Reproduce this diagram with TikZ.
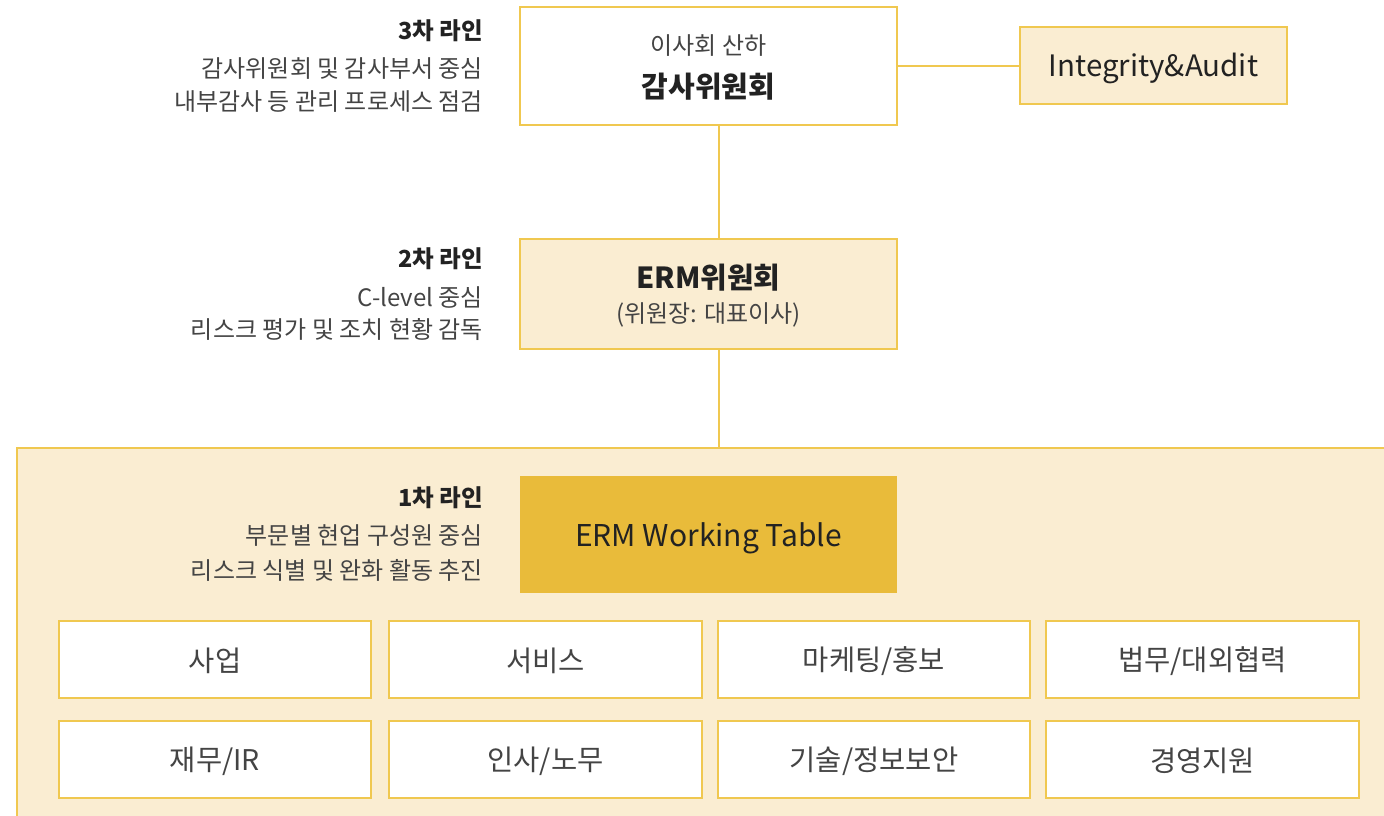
\documentclass[tikz,border=0pt]{standalone}
\usepackage{fontspec}
\setmainfont{Noto Sans CJK KR}
\definecolor{lineY}{HTML}{F0C850}
\definecolor{paleY}{HTML}{FAEDD2}
\definecolor{darkY}{HTML}{E9BB3A}
\definecolor{txtA}{HTML}{222222}
\definecolor{txtB}{HTML}{444444}
\tikzset{
  box/.style={draw=lineY, line width=1.5pt, inner sep=0pt},
  conn/.style={draw=lineY, line width=1.5pt},
  ttl/.style={anchor=east, font=\fontsize{23.5}{28}\selectfont\bfseries, text=txtA, inner sep=0pt},
  sub/.style={anchor=east, font=\fontsize{24}{28}\selectfont, text=txtB, inner sep=0pt},
  cell/.style={font=\fontsize{28.5}{32}\selectfont, text=txtB, inner sep=0pt},
}
\begin{document}
\begin{tikzpicture}[x=1pt,y=-1pt]
\useasboundingbox (0,0) rectangle (1384,815);
% panel
\fill[paleY] (17,448) rectangle (1390,820);
\draw[conn] (1390,448) -- (17,448) -- (17,820);
% top boxes
\draw[box, fill=white] (520,7) rectangle (897,125);
\coordinate (audTop) at (719,125);
\node[text=txtB, font=\fontsize{24}{28}\selectfont, inner sep=0pt] (aud1) at (708.5,46) {이사회 산하};
\node[text=txtA, font=\fontsize{29}{34}\selectfont\bfseries, inner sep=0pt] (aud2) at (708.5,87) {감사위원회};
\coordinate (audR) at (897,66);
\draw[box, fill=paleY] (1020,27) rectangle (1287,104);
\node[text=txtA, font=\fontsize{29.5}{34}\selectfont, inner sep=0pt] (ia) at (1153.5,68) {Integrity\&Audit};
\coordinate (iaL) at (1020,66);
\draw[box, fill=paleY] (520,239) rectangle (897,349);
\coordinate (ermT) at (719,239);
\coordinate (ermB) at (719,349);
\coordinate (panelT) at (719,448);
\node[text=txtA, font=\fontsize{29}{34}\selectfont\bfseries, inner sep=0pt] (erm1) at (708.5,278) {ERM위원회};
\node[text=txtB, font=\fontsize{24}{28}\selectfont, inner sep=0pt] (erm2) at (708.5,315) {(위원장: 대표이사)};
\draw[conn] (audR) -- (iaL);
\draw[conn] (audTop) -- (ermT);
\draw[conn] (ermB) -- (panelT);
% working table
\fill[darkY] (520,476) rectangle (897,593);
\node[text=txtA, font=\fontsize{30}{34}\selectfont, inner sep=0pt] (wt) at (708.5,538) {ERM Working Table};
% left texts
\node[ttl] (l3a) at (483,31) {3차 라인};
\node[sub] (l3b) at (483,69) {감사위원회 및 감사부서 중심};
\node[sub] (l3c) at (483,102) {내부감사 등 관리 프로세스 점검};
\node[ttl] (l2a) at (483,259) {2차 라인};
\node[sub] (l2b) at (483,297) {C-level 중심};
\node[sub] (l2c) at (483,330) {리스크 평가 및 조치 현황 감독};
\node[ttl] (l1a) at (483,498) {1차 라인};
\node[sub] (l1b) at (483,536) {부문별 현업 구성원 중심};
\node[sub] (l1c) at (483,570) {리스크 식별 및 완화 활동 추진};
% grid
\foreach \x/\w [count=\i] in {59/312,389/313,718/312,1046/313}{
  \draw[box, fill=white] (\x,621) rectangle ++(\w,77);
  \draw[box, fill=white] (\x,721) rectangle ++(\w,77);
}
\node[cell] (c1) at (215,661) {사업};
\node[cell] (c2) at (545.5,661) {서비스};
\node[cell] (c3) at (874,661) {마케팅/홍보};
\node[cell] (c4) at (1202.5,661) {법무/대외협력};
\node[cell] (c5) at (215,761) {재무/IR};
\node[cell] (c6) at (545.5,761) {인사/노무};
\node[cell] (c7) at (874,761) {기술/정보보안};
\node[cell] (c8) at (1202.5,761) {경영지원};
\end{tikzpicture}
\end{document}
